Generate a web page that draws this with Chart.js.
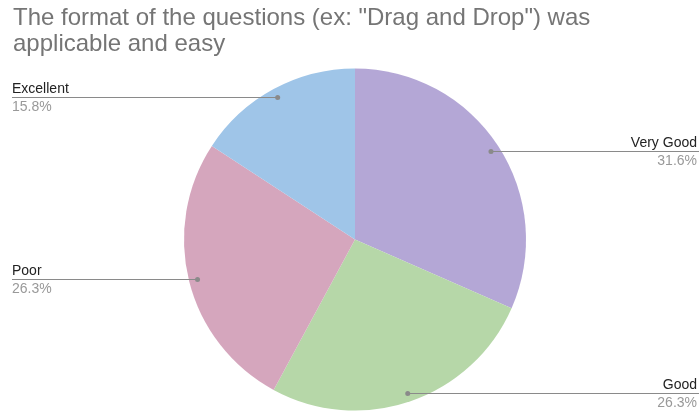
<!DOCTYPE html>
<html>
<head>
<meta charset="utf-8">
<script src="https://cdn.jsdelivr.net/npm/chart.js@4.4.0/dist/chart.umd.min.js"></script>
<style>
  html, body { margin: 0; padding: 0; background: #fff; }
  #wrap { width: 699px; height: 415px; position: relative; }
</style>
</head>
<body>
<div id="wrap"><canvas id="pie"></canvas></div>
<script>
// chart data
const titleLines = ['The format of the questions (ex: "Drag and Drop") was', 'applicable and easy'];
const categories = ['Very Good', 'Good', 'Poor', 'Excellent'];
const counts = [6, 5, 5, 3];
const sliceColors = ['#b4a7d6', '#b6d7a8', '#d5a6bd', '#9fc5e8'];
// which side each label sits on
const labelSide = ['right', 'right', 'left', 'left'];

const total = counts.reduce((a, b) => a + b, 0);

// draws title + leader-line labels like the sheets chart
const calloutPlugin = {
    id: 'callouts',
    afterDraw(chart) {
        const c = chart.ctx;
        const W = chart.width;
        c.save();
        c.fillStyle = '#757575';
        c.font = '24px "Liberation Sans", Arial';
        c.textAlign = 'left';
        c.textBaseline = 'alphabetic';
        c.fillText(titleLines[0], 13, 25);
        c.fillText(titleLines[1], 13, 51);

        const meta = chart.getDatasetMeta(0);
        meta.data.forEach((arc, i) => {
            const mid = (arc.startAngle + arc.endAngle) / 2;
            const r = arc.outerRadius * 0.95;
            const px = arc.x + Math.cos(mid) * r;
            const py = Math.round(arc.y + Math.sin(mid) * r);
            const right = labelSide[i] === 'right';
            const endX = right ? W : 12;

            c.strokeStyle = '#8a8a8a';
            c.lineWidth = 1;
            c.beginPath();
            c.moveTo(px, py + 0.5);
            c.lineTo(endX, py + 0.5);
            c.stroke();
            c.fillStyle = '#8a8a8a';
            c.beginPath();
            c.arc(px, py + 0.5, 2.5, 0, Math.PI * 2);
            c.fill();

            const tx = right ? W - 2 : 12;
            c.textAlign = right ? 'right' : 'left';
            c.font = '14px "Liberation Sans", Arial';
            c.fillStyle = '#222222';
            c.fillText(categories[i], tx, py - 4);
            c.fillStyle = '#999999';
            c.fillText((counts[i] / total * 100).toFixed(1) + '%', tx, py + 14);
        });
        c.restore();
    }
};

new Chart(document.getElementById('pie'), {
    type: 'pie',
    data: {
        labels: categories,
        datasets: [{
            data: counts,
            backgroundColor: sliceColors,
            borderWidth: 0
        }]
    },
    options: {
        responsive: true,
        maintainAspectRatio: false,
        animation: false,
        layout: { padding: { top: 68, bottom: 4, left: 184, right: 173 } },
        plugins: {
            legend: { display: false },
            tooltip: { enabled: false }
        }
    },
    plugins: [calloutPlugin]
});
</script>
</body>
</html>
